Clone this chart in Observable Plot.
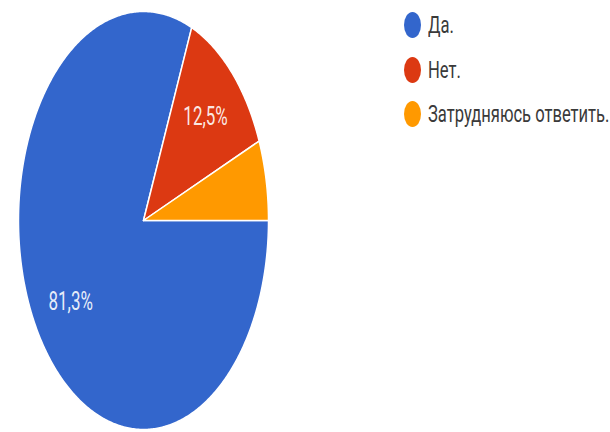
<!DOCTYPE html>
<html>
<head>
<meta charset="utf-8">
<script src="https://cdn.jsdelivr.net/npm/d3@7"></script>
<script src="https://cdn.jsdelivr.net/npm/@observablehq/plot@0.6"></script>
<style>
  html, body { margin: 0; padding: 0; background: #fff; }
  #wrap { position: relative; width: 610px; height: 432px; overflow: hidden; }
  #legend { position: absolute; left: 404px; top: 0; font-family: Roboto, "Noto Sans", sans-serif; }
  .item { position: absolute; left: 0; height: 30px; white-space: nowrap; display: flex; align-items: center; }
  .sw { width: 17px; height: 26px; border-radius: 50%; display: inline-block; flex: none; }
  .lab { display: inline-block; margin-left: 7px; font-size: 24px; line-height: 30px; color: #3a3a3a; transform: scaleX(0.69); transform-origin: left center; }
</style>
</head>
<body>
<div id="wrap"><div id="chart"></div><div id="legend"></div></div>
<script>
const categories = ["Да.", "Нет.", "Затрудняюсь ответить."];
const values = [81.3, 12.5, 6.2];
const labels = ["81,3%", "12,5%", ""];
const colors = ["#3366cc", "#dc3912", "#ff9900"];

// slices: start at 3 o'clock, going clockwise
const total = d3.sum(values);
const startAngle = Math.PI / 2; // clock angle from 12 o'clock
const slices = [];
const labelPts = [];
let a0 = startAngle;
categories.forEach((c, i) => {
  const a1 = a0 + values[i] / total * 2 * Math.PI;
  const n = Math.max(2, Math.ceil((a1 - a0) / 0.01));
  slices.push({cat: c, x: 0, y: 0});
  for (let j = 0; j <= n; j++) {
    const a = a0 + (a1 - a0) * j / n;
    slices.push({cat: c, x: Math.sin(a), y: Math.cos(a)});
  }
  slices.push({cat: c, x: 0, y: 0});
  const am = (a0 + a1) / 2;
  if (labels[i]) labelPts.push({cat: c, text: labels[i], x: 0.7 * Math.sin(am), y: 0.7 * Math.cos(am)});
  a0 = a1;
});

const plot = Plot.plot({
  width: 610,
  height: 432,
  marginLeft: 18,
  marginRight: 342,
  marginTop: 11,
  marginBottom: 3,
  x: {domain: [-1, 1], axis: null},
  y: {domain: [-1, 1], axis: null},
  color: {domain: categories, range: colors},
  style: {fontFamily: "Roboto, sans-serif", background: "white"},
  marks: [
    Plot.line(slices, {x: "x", y: "y", z: "cat", fill: "cat", stroke: "white", strokeWidth: 1.5, strokeLinejoin: "round"}),
    Plot.text(labelPts, {x: "x", y: "y", text: "text", fill: "white", fillOpacity: 0.9, fontSize: 25})
  ]
});
document.getElementById("chart").appendChild(plot);
// condense label glyphs horizontally like the reference (stretched image)
d3.select(plot).selectAll("g[aria-label=text] text").each(function() {
  const tr = this.getAttribute("transform") || "";
  this.setAttribute("transform", tr + " scale(0.68,1)");
});

const legendCenters = [25, 70, 114];
const legend = document.getElementById("legend");
categories.forEach((c, i) => {
  const it = document.createElement("div");
  it.className = "item";
  it.style.top = (legendCenters[i] - 15) + "px";
  it.innerHTML = `<span class="sw" style="background:${colors[i]}"></span><span class="lab">${c}</span>`;
  legend.appendChild(it);
});
</script>
</body>
</html>
